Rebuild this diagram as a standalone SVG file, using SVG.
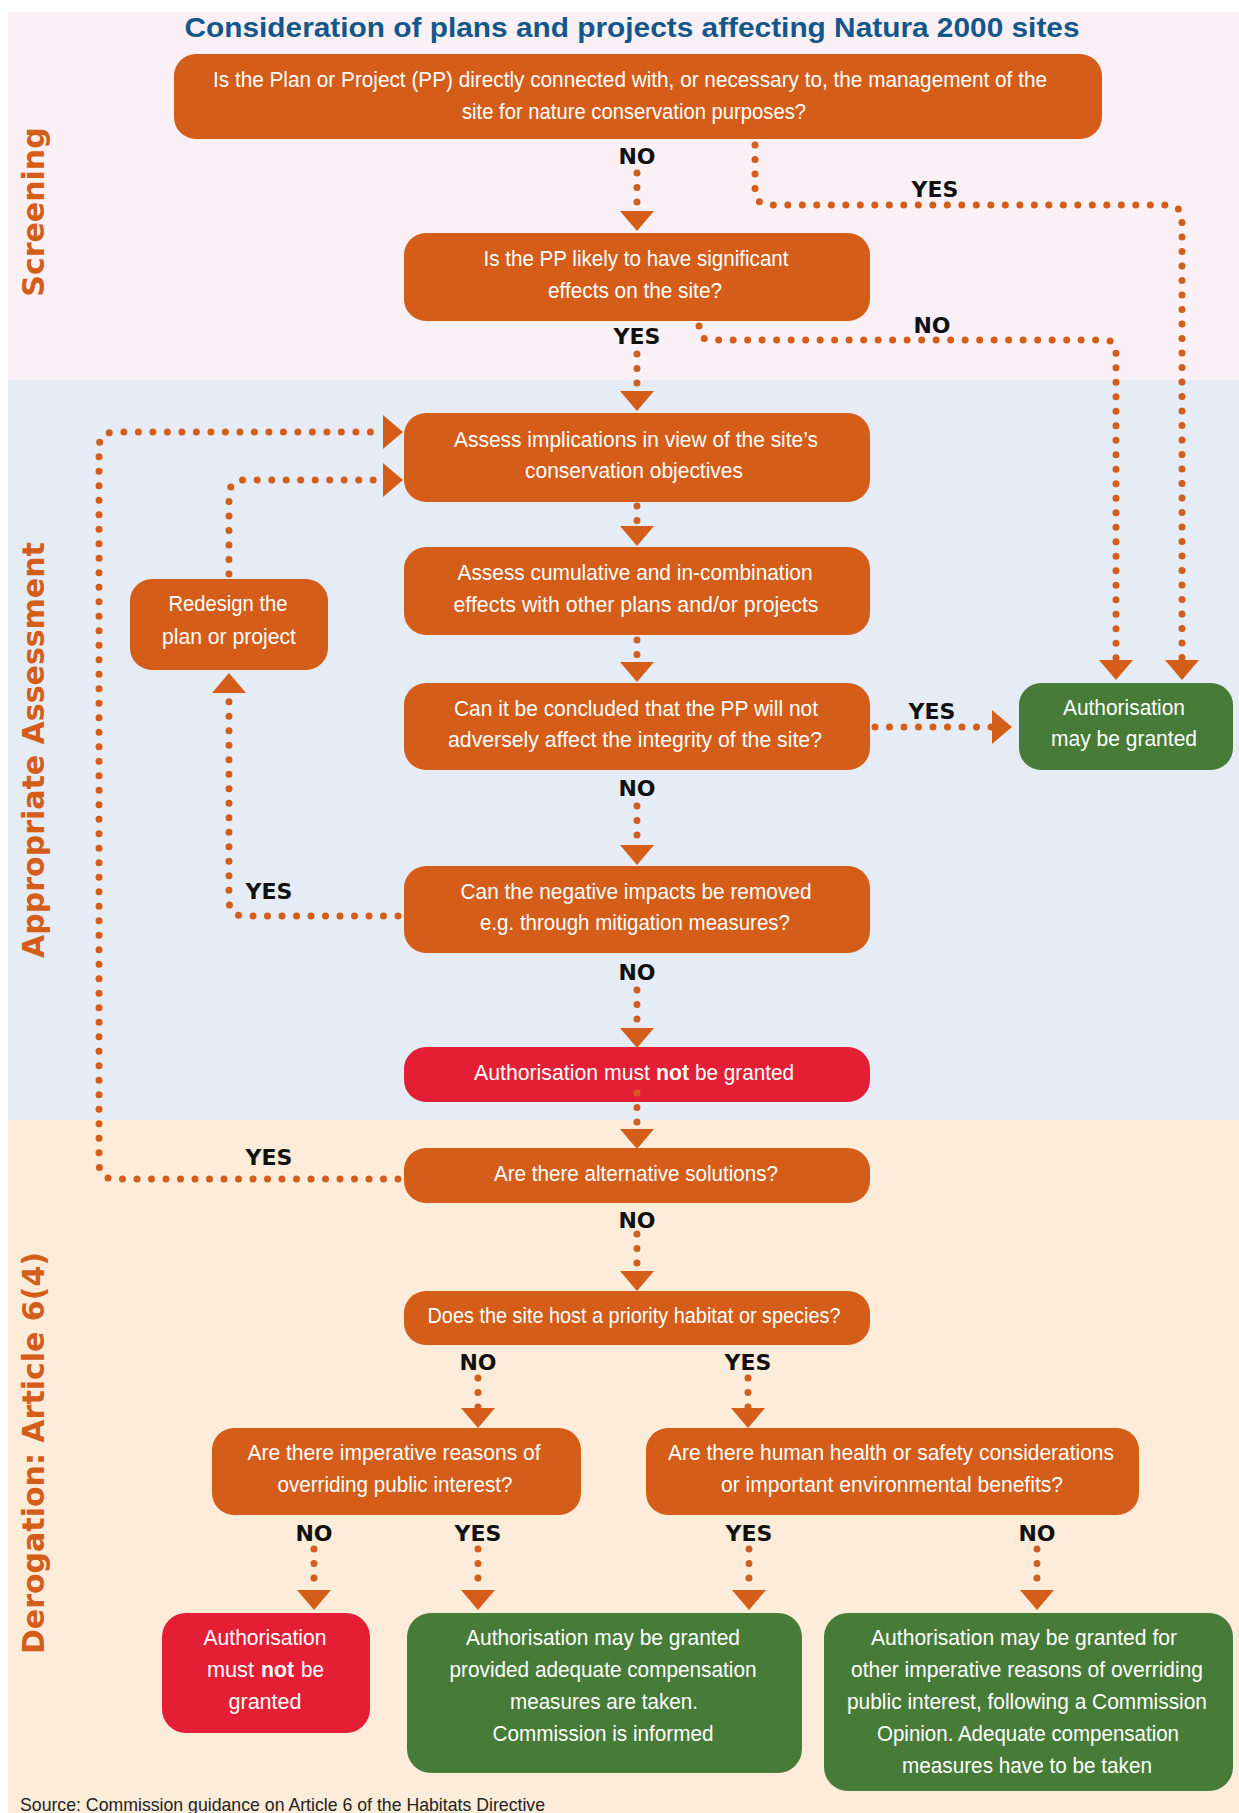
<svg xmlns="http://www.w3.org/2000/svg" width="1239" height="1813" viewBox="0 0 1239 1813">
<style>
.box{fill:#d45d19}
.grn{fill:#477b38}
.red{fill:#e31e35}
.t{font-family:"Liberation Sans",Arial,sans-serif;font-size:22px;fill:#fff;text-anchor:middle}
.ts{font-family:"Liberation Sans",Arial,sans-serif;font-size:22px;fill:#fff;text-anchor:start}
.b{font-weight:bold}
.lbl{font-family:"DejaVu Sans",Verdana,sans-serif;font-weight:bold;font-size:22px;fill:#111;text-anchor:middle}
.sec{font-family:"DejaVu Sans",Verdana,sans-serif;font-weight:bold;font-size:30px;fill:#d45d19;text-anchor:middle}
.c{fill:none;stroke:#d45d19;stroke-width:7;stroke-linecap:round;stroke-dasharray:0 14.5;marker-end:url(#arr)}
</style>
<defs>
<marker id="arr" markerUnits="userSpaceOnUse" markerWidth="20" markerHeight="34" refX="0" refY="17" orient="auto" viewBox="0 0 20 34">
<path d="M0,0 L20,17 L0,34 Z" fill="#d45d19"/>
</marker>
</defs>
<rect x="0" y="0" width="1239" height="1813" fill="#fff"/>
<g id="bands">
<rect x="8" y="12" width="1231" height="368" fill="#fbf0f6"/>
<rect x="8" y="380" width="1231" height="740" fill="#e5ecf6"/>
<rect x="8" y="1120" width="1231" height="693" fill="#fdecd9"/>
</g>
<g id="section-labels">
<text class="sec" transform="translate(44,212) rotate(-90)">Screening</text>
<text class="sec" transform="translate(44,750) rotate(-90)">Appropriate Assessment</text>
<text class="sec" transform="translate(44,1453) rotate(-90)">Derogation: Article 6(4)</text>
</g>
<text id="title" x="632" y="37" font-family="Liberation Sans,Arial,sans-serif" font-weight="bold" font-size="27" fill="#12578a" text-anchor="middle" textLength="895" lengthAdjust="spacingAndGlyphs">Consideration of plans and projects affecting Natura 2000 sites</text>

<g id="n1">
<rect class="box" x="174" y="54" width="928" height="85" rx="22"/>
<text class="t" x="630" y="87" textLength="834" lengthAdjust="spacingAndGlyphs">Is the Plan or Project (PP) directly connected with, or necessary to, the management of the</text>
<text class="t" x="634" y="119" textLength="344" lengthAdjust="spacingAndGlyphs">site for nature conservation purposes?</text>
</g>
<g id="n2">
<rect class="box" x="404" y="233" width="466" height="88" rx="22"/>
<text class="t" x="636" y="266" textLength="305" lengthAdjust="spacingAndGlyphs">Is the PP likely to have significant</text>
<text class="t" x="635" y="298" textLength="174" lengthAdjust="spacingAndGlyphs">effects on the site?</text>
</g>
<g id="n3">
<rect class="box" x="404" y="413" width="466" height="89" rx="22"/>
<text class="t" x="636" y="447" textLength="364" lengthAdjust="spacingAndGlyphs">Assess implications in view of the site’s</text>
<text class="t" x="634" y="478" textLength="218" lengthAdjust="spacingAndGlyphs">conservation objectives</text>
</g>
<g id="n4">
<rect class="box" x="404" y="547" width="466" height="88" rx="22"/>
<text class="t" x="635" y="580" textLength="355" lengthAdjust="spacingAndGlyphs">Assess cumulative and in-combination</text>
<text class="t" x="636" y="612" textLength="365" lengthAdjust="spacingAndGlyphs">effects with other plans and/or projects</text>
</g>
<g id="n5">
<rect class="box" x="404" y="683" width="466" height="87" rx="22"/>
<text class="t" x="636" y="716" textLength="364" lengthAdjust="spacingAndGlyphs">Can it be concluded that the PP will not</text>
<text class="t" x="635" y="747" textLength="374" lengthAdjust="spacingAndGlyphs">adversely affect the integrity of the site?</text>
</g>
<g id="g1">
<rect class="grn" x="1019" y="683" width="214" height="87" rx="22"/>
<text class="t" x="1124" y="715" textLength="122" lengthAdjust="spacingAndGlyphs">Authorisation</text>
<text class="t" x="1124" y="746" textLength="146" lengthAdjust="spacingAndGlyphs">may be granted</text>
</g>
<g id="redesign">
<rect class="box" x="130" y="579" width="198" height="91" rx="22"/>
<text class="t" x="228" y="611" textLength="119" lengthAdjust="spacingAndGlyphs">Redesign the</text>
<text class="t" x="229" y="644" textLength="134" lengthAdjust="spacingAndGlyphs">plan or project</text>
</g>
<g id="n6">
<rect class="box" x="404" y="866" width="466" height="87" rx="22"/>
<text class="t" x="636" y="899" textLength="351" lengthAdjust="spacingAndGlyphs">Can the negative impacts be removed</text>
<text class="t" x="635" y="930" textLength="310" lengthAdjust="spacingAndGlyphs">e.g. through mitigation measures?</text>
</g>
<g id="r1">
<rect class="red" x="404" y="1047" width="466" height="55" rx="22"/>
<text class="ts" x="474" y="1080" textLength="176" lengthAdjust="spacingAndGlyphs">Authorisation must</text>
<text class="ts b" x="656" y="1080" textLength="33" lengthAdjust="spacingAndGlyphs">not</text>
<text class="ts" x="695" y="1080" textLength="99" lengthAdjust="spacingAndGlyphs">be granted</text>
</g>
<g id="n8">
<rect class="box" x="404" y="1148" width="466" height="55" rx="22"/>
<text class="t" x="636" y="1181" textLength="284" lengthAdjust="spacingAndGlyphs">Are there alternative solutions?</text>
</g>
<g id="n9">
<rect class="box" x="404" y="1291" width="466" height="54" rx="22"/>
<text class="t" x="634" y="1323" textLength="413" lengthAdjust="spacingAndGlyphs">Does the site host a priority habitat or species?</text>
</g>
<g id="n10">
<rect class="box" x="212" y="1428" width="369" height="87" rx="22"/>
<text class="t" x="394" y="1460" textLength="293" lengthAdjust="spacingAndGlyphs">Are there imperative reasons of</text>
<text class="t" x="395" y="1492" textLength="235" lengthAdjust="spacingAndGlyphs">overriding public interest?</text>
</g>
<g id="n11">
<rect class="box" x="646" y="1428" width="493" height="87" rx="22"/>
<text class="t" x="891" y="1460" textLength="446" lengthAdjust="spacingAndGlyphs">Are there human health or safety considerations</text>
<text class="t" x="892" y="1492" textLength="342" lengthAdjust="spacingAndGlyphs">or important environmental benefits?</text>
</g>
<g id="r2">
<rect class="red" x="162" y="1613" width="208" height="120" rx="24"/>
<text class="t" x="265" y="1645" textLength="123" lengthAdjust="spacingAndGlyphs">Authorisation</text>
<text class="ts" x="207" y="1677" textLength="47" lengthAdjust="spacingAndGlyphs">must</text>
<text class="ts b" x="261" y="1677" textLength="33" lengthAdjust="spacingAndGlyphs">not</text>
<text class="ts" x="301" y="1677" textLength="23" lengthAdjust="spacingAndGlyphs">be</text>
<text class="t" x="265" y="1709" textLength="73" lengthAdjust="spacingAndGlyphs">granted</text>
</g>
<g id="g2">
<rect class="grn" x="407" y="1613" width="395" height="160" rx="24"/>
<text class="t" x="603" y="1645" textLength="274" lengthAdjust="spacingAndGlyphs">Authorisation may be granted</text>
<text class="t" x="603" y="1677" textLength="307" lengthAdjust="spacingAndGlyphs">provided adequate compensation</text>
<text class="t" x="604" y="1709" textLength="188" lengthAdjust="spacingAndGlyphs">measures are taken.</text>
<text class="t" x="603" y="1741" textLength="221" lengthAdjust="spacingAndGlyphs">Commission is informed</text>
</g>
<g id="g3">
<rect class="grn" x="824" y="1613" width="409" height="178" rx="24"/>
<text class="t" x="1024" y="1645" textLength="306" lengthAdjust="spacingAndGlyphs">Authorisation may be granted for</text>
<text class="t" x="1027" y="1677" textLength="352" lengthAdjust="spacingAndGlyphs">other imperative reasons of overriding</text>
<text class="t" x="1027" y="1709" textLength="360" lengthAdjust="spacingAndGlyphs">public interest, following a Commission</text>
<text class="t" x="1028" y="1741" textLength="302" lengthAdjust="spacingAndGlyphs">Opinion. Adequate compensation</text>
<text class="t" x="1027" y="1773" textLength="250" lengthAdjust="spacingAndGlyphs">measures have to be taken</text>
</g>

<g id="connectors">
<path class="c" d="M637,173 V211"/>
<path class="c" d="M755,145 V190 Q755,205 770,205 H1167 Q1182,205 1182,220 V660"/>
<path class="c" d="M699,326 V328 Q699,340 711,340 H1104 Q1116,340 1116,352 V660"/>
<path class="c" d="M637,354 V391"/>
<path class="c" d="M637,506 V526"/>
<path class="c" d="M637,640 V662"/>
<path class="c" d="M875,727 H992"/>
<path class="c" d="M637,806 V845"/>
<path class="c" d="M398,916 H245 Q229,916 229,900 V693"/>
<path class="c" d="M229,574 V496 Q229,480 245,480 H383"/>
<path class="c" d="M398,1179 H115 Q99,1179 99,1163 V448 Q99,432 115,432 H383"/>
<path class="c" d="M637,990 V1028"/>
<path class="c" d="M637,1093 V1129"/>
<path class="c" d="M637,1234 V1271"/>
<path class="c" d="M478,1378 V1408"/>
<path class="c" d="M748,1378 V1408"/>
<path class="c" d="M314,1549 V1590"/>
<path class="c" d="M478,1549 V1590"/>
<path class="c" d="M749,1549 V1590"/>
<path class="c" d="M1037,1549 V1590"/>
</g>
<g id="labels">
<text class="lbl" x="637" y="164">NO</text>
<text class="lbl" x="935" y="197">YES</text>
<text class="lbl" x="932" y="333">NO</text>
<text class="lbl" x="637" y="344">YES</text>
<text class="lbl" x="932" y="719">YES</text>
<text class="lbl" x="637" y="796">NO</text>
<text class="lbl" x="269" y="899">YES</text>
<text class="lbl" x="637" y="980">NO</text>
<text class="lbl" x="269" y="1165">YES</text>
<text class="lbl" x="637" y="1228">NO</text>
<text class="lbl" x="478" y="1370">NO</text>
<text class="lbl" x="748" y="1370">YES</text>
<text class="lbl" x="314" y="1541">NO</text>
<text class="lbl" x="478" y="1541">YES</text>
<text class="lbl" x="749" y="1541">YES</text>
<text class="lbl" x="1037" y="1541">NO</text>
</g>
<text id="source" x="20" y="1811" font-family="Liberation Sans,Arial,sans-serif" font-size="19" fill="#222" textLength="525" lengthAdjust="spacingAndGlyphs">Source: Commission guidance on Article 6 of the Habitats Directive</text>
</svg>
